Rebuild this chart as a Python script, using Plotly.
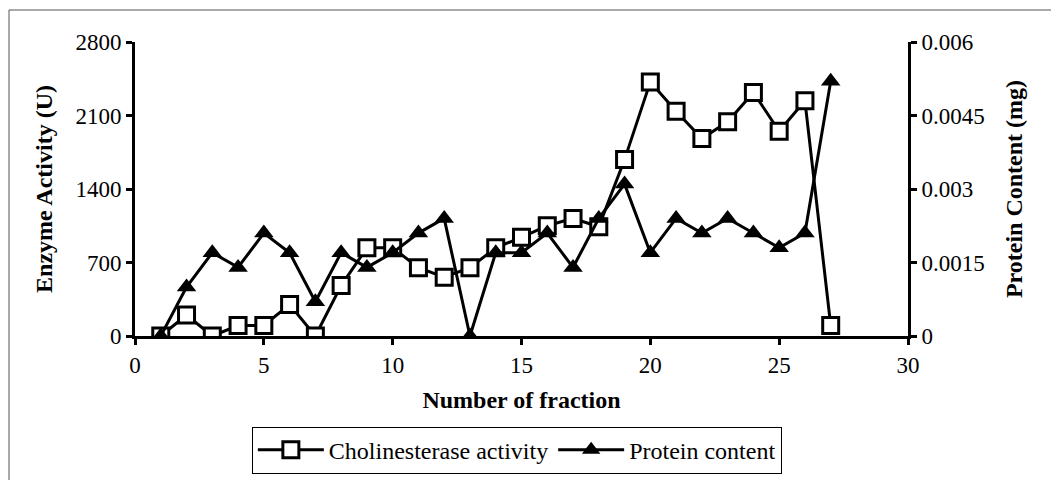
import plotly.graph_objects as go

fractions = list(range(1, 28))
cholinesterase_activity = [0, 200, 0, 100, 100, 300, 0, 480, 840, 840, 650, 560, 650, 840,
                           940, 1050, 1120, 1040, 1680, 2420, 2140, 1880, 2040, 2320, 1950, 2240, 100]
protein_content = [0, 0.0010, 0.0017, 0.0014, 0.0021, 0.0017, 0.0007, 0.0017, 0.0014, 0.0017,
                   0.0021, 0.0024, 0, 0.0017, 0.0017, 0.0021, 0.0014, 0.0024, 0.0031, 0.0017,
                   0.0024, 0.0021, 0.0024, 0.0021, 0.0018, 0.0021, 0.0052]

x_ticks = [0, 5, 10, 15, 20, 25, 30]
y_ticks = [0, 700, 1400, 2100, 2800]
y2_ticks = [0, 0.0015, 0.003, 0.0045, 0.006]
y2_labels = ["0", "0.0015", "0.003", "0.0045", "0.006"]

FONT = "Liberation Serif, Times New Roman, serif"
TICK_SIZE = 23
TEXT_SIZE = 24

fig = go.Figure()
fig.add_trace(go.Scatter(
    x=fractions, y=cholinesterase_activity, name="Cholinesterase activity",
    mode="lines+markers",
    line=dict(color="black", width=3),
    marker=dict(symbol="square", size=16, color="white", line=dict(color="black", width=3)),
    yaxis="y",
))
fig.add_trace(go.Scatter(
    x=fractions, y=protein_content, name="Protein content",
    mode="lines+markers",
    line=dict(color="black", width=3),
    marker=dict(symbol="triangle-up", size=17, color="black"),
    yaxis="y2",
))

axis_common = dict(showline=True, linecolor="black", linewidth=3, ticks="outside",
                   ticklen=6, tickwidth=3, tickcolor="black", showgrid=False, zeroline=False,
                   tickfont=dict(family=FONT, size=TICK_SIZE, color="black"))

# page has an 8px body margin: plot area in page coords x 135-908, y 42-336
fig.update_layout(
    width=1051, height=472,
    margin=dict(l=127, r=151, t=34, b=144, autoexpand=False),
    paper_bgcolor="white", plot_bgcolor="white",
    font=dict(family=FONT, size=TEXT_SIZE, color="black"),
    xaxis=dict(range=[0, 30], tickvals=x_ticks, **axis_common,
               title=dict(text="<b>Number of fraction</b>", font=dict(family=FONT, size=TEXT_SIZE),
                          standoff=15)),
    yaxis=dict(range=[0, 2800], tickvals=y_ticks, **axis_common,
               title=dict(text="<b>Enzyme Activity (U)</b>", font=dict(family=FONT, size=TEXT_SIZE),
                          standoff=17)),
    yaxis2=dict(range=[0, 0.006], tickvals=y2_ticks, ticktext=y2_labels, overlaying="y",
                side="right", **axis_common,
                title=dict(text="<b>Protein Content (mg)</b>", font=dict(family=FONT, size=TEXT_SIZE),
                           standoff=22)),
    showlegend=True,
    legend=dict(orientation="h", x=0.494, xanchor="center", y=-0.308, yanchor="top",
                bordercolor="black", borderwidth=1, bgcolor="white",
                font=dict(family=FONT, size=TEXT_SIZE, color="black"),
                itemwidth=66, tracegroupgap=0),
    shapes=[dict(type="rect", xref="paper", yref="paper",
                 x0=(1 - 127) / 773, x1=1.3, y0=-0.7, y1=(328 - 2) / 294,
                 line=dict(color="#555555", width=1), layer="below")],
)

fig.write_html("out.html")
